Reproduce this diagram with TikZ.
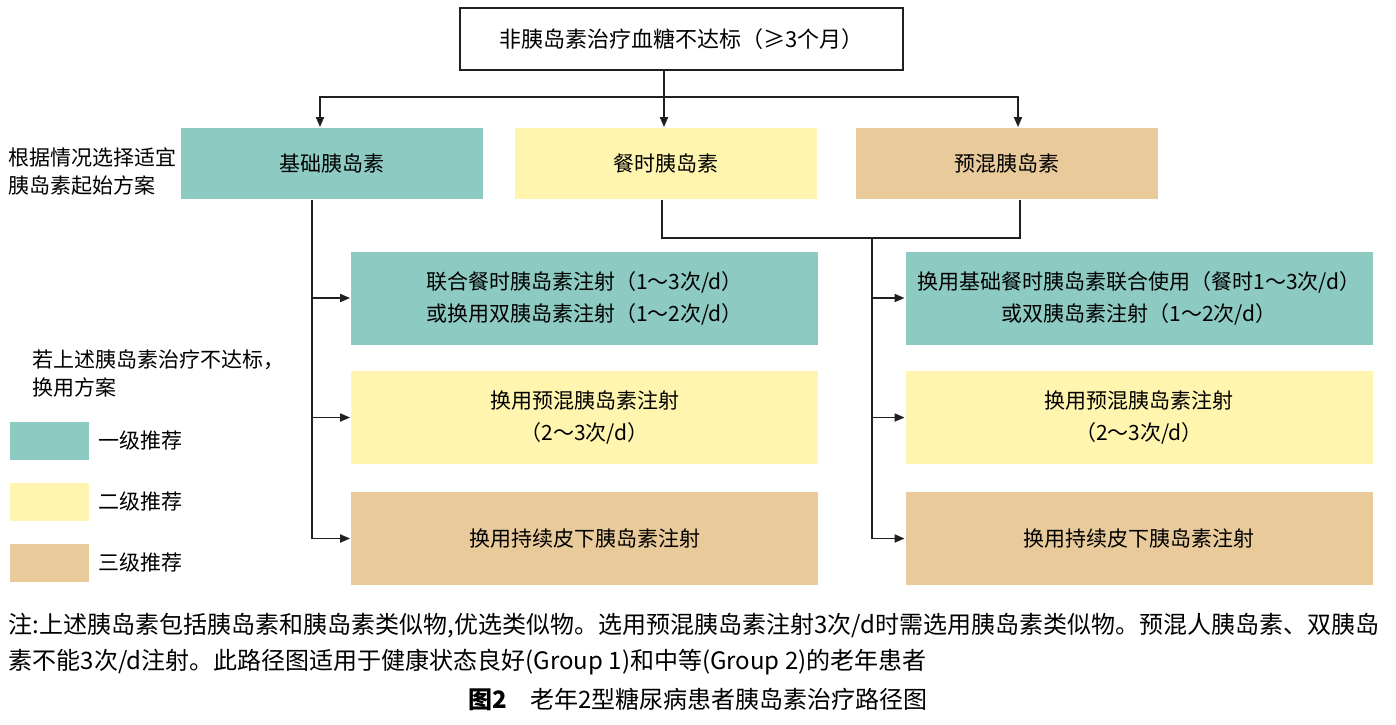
\documentclass[tikz,border=0pt]{standalone}
\usepackage{fontspec}
\setmainfont{Noto Sans CJK SC}
\usetikzlibrary{arrows.meta, positioning, calc}
\definecolor{cteal}{HTML}{8DCBC2}
\definecolor{cyellow}{HTML}{FFF5AE}
\definecolor{ctan}{HTML}{E8CA9B}
\definecolor{cline}{HTML}{231F20}
\tikzset{
  every picture/.style={line width=1.8pt},
  box/.style={fill=#1, align=center, inner sep=0pt, font=\fontsize{21}{32}\selectfont},
  box/.default=white,
  wide/.style={box=#1, minimum width=467pt, minimum height=93pt},
  head/.style={box=#1, minimum width=302pt, minimum height=71pt},
  swatch/.style={fill=#1, minimum width=79pt, minimum height=38pt, inner sep=0pt},
  arrow/.style={-{Triangle[length=10pt, width=8pt]}, draw=cline},
  link/.style={draw=cline},
  lbl/.style={font=\fontsize{21}{28}\selectfont, align=left, anchor=west, inner sep=0pt},
  note/.style={font=\fontsize{24}{36}\selectfont, align=left, anchor=west, inner sep=0pt},
}

\begin{document}
\begin{tikzpicture}[x=1pt, y=-1pt]
  \useasboundingbox (0,0) rectangle (1396,724);
  % start and the three starting regimens
  \node[box, draw=cline, minimum width=443pt, minimum height=62pt, font=\fontsize{22}{30}\selectfont] (top) at (681.5,39) {非胰岛素治疗血糖不达标（≥3个月）};
  \node[head=cteal] (basal) at (332,163.5) {基础胰岛素};
  \node[head=cyellow] (meal) at (666,163.5) {餐时胰岛素};
  \node[head=ctan] (premix) at (1006.5,163.5) {预混胰岛素};
  \node[lbl] (start) at (8,172) {根据情况选择适宜\\胰岛素起始方案};
  % switching options
  \node[wide=cteal] (l1) at (584.5,298) {联合餐时胰岛素注射（1～3次/d）\\或换用双胰岛素注射（1～2次/d）};
  \node[wide=cyellow] (l2) at (584.5,417.5) {换用预混胰岛素注射\\（2～3次/d）};
  \node[wide=ctan] (l3) at (584.5,538.5) {换用持续皮下胰岛素注射};
  \node[wide=cteal] (r1) at (1139,298) {换用基础餐时胰岛素联合使用（餐时1～3次/d）\\或双胰岛素注射（1～2次/d）};
  \node[wide=cyellow] (r2) at (1139,417.5) {换用预混胰岛素注射\\（2～3次/d）};
  \node[wide=ctan] (r3) at (1139,538.5) {换用持续皮下胰岛素注射};
  % legend
  \node[lbl] (legend) at (32,374) {若上述胰岛素治疗不达标，\\换用方案};
  \node[swatch=cteal] (s1) at (49.5,440.5) {};
  \node[swatch=cyellow] (s2) at (49.5,501.5) {};
  \node[swatch=ctan] (s3) at (49.5,563) {};
  \node[lbl, right=8pt of s1] (g1) {一级推荐};
  \node[lbl, right=8pt of s2] (g2) {二级推荐};
  \node[lbl, right=8pt of s3] (g3) {三级推荐};
  % connectors
  \coordinate (split) at (664,97);
  \draw[link] (top.south -| split) -- (split);
  \draw[arrow] (split) -| ($(basal.north)+(-12,0)$);
  \draw[arrow] (split) -- (meal.north -| split);
  \draw[arrow] (split) -| ($(premix.north)+(11.5,0)$);
  \coordinate (ltrunk) at (312,0);
  \draw[arrow] (basal.south -| ltrunk) |- (l3.west);
  \draw[arrow] (l1.west -| ltrunk) -- (l1.west);
  \draw[arrow] (l2.west -| ltrunk) -- (l2.west);
  \coordinate (join) at (872,238);
  \draw[link] ($(meal.south)+(-4,0)$) |- (join) -| ($(premix.south)+(13.5,0)$);
  \draw[arrow] (join) |- (r3.west);
  \draw[arrow] (r1.west -| join) -- (r1.west);
  \draw[arrow] (r2.west -| join) -- (r2.west);
  % note and caption
  \node[note] (remark) at (8,644) {注:上述胰岛素包括胰岛素和胰岛素类似物,优选类似物。选用预混胰岛素注射3次/d时需选用胰岛素类似物。预混人胰岛素、双胰岛\\素不能3次/d注射。此路径图适用于健康状态良好(Group 1)和中等(Group 2)的老年患者};
  \node[font=\fontsize{24}{28}\selectfont, inner sep=0pt] (caption) at (698,700) {\textbf{图2}\quad 老年2型糖尿病患者胰岛素治疗路径图};
\end{tikzpicture}
\end{document}
